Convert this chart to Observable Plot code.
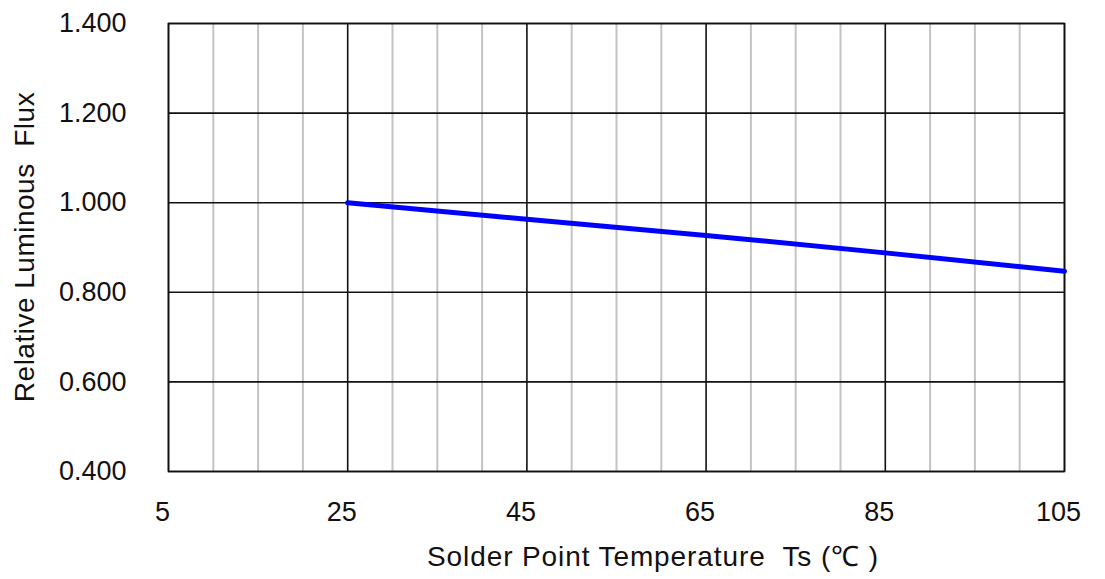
<!DOCTYPE html>
<html>
<head>
<meta charset="utf-8">
<script src="https://cdn.jsdelivr.net/npm/d3@7"></script>
<script src="https://cdn.jsdelivr.net/npm/@observablehq/plot@0.6"></script>
<style>
  html, body { margin: 0; padding: 0; background: #fff; }
  #chart svg { display: block; }
</style>
</head>
<body>
<div id="chart"></div>
<script>
// Data
const temperature = [25, 45, 65, 85, 105];
const relativeFlux = [1.000, 0.963, 0.927, 0.888, 0.847];

const xMajorTicks = [5, 25, 45, 65, 85, 105];
const xMinorTicks = [10, 15, 20, 30, 35, 40, 50, 55, 60, 70, 75, 80, 90, 95, 100];
const yTicks = [0.4, 0.6, 0.8, 1.0, 1.2, 1.4];

const data = temperature.map((t, i) => ({t, v: relativeFlux[i]}));

const W = 1105, H = 579;
const mL = 168, mR = 41, mT = 23, mB = 108;
const FS = "27px";

const plot = Plot.plot({
  width: W,
  height: H,
  marginLeft: mL,
  marginRight: mR,
  marginTop: mT,
  marginBottom: mB,
  style: {fontFamily: "'Liberation Sans', Arial, sans-serif", fontSize: FS, color: "#151010", background: "#fff"},
  x: {domain: [5, 105], ticks: xMajorTicks, tickSize: 0, tickPadding: 30, label: null, tickFormat: d3.format("d")},
  y: {domain: [0.4, 1.4], ticks: yTicks, tickSize: 0, tickPadding: 42, label: null, tickFormat: d3.format(".3f")},
  marks: [
    Plot.ruleX(xMinorTicks, {stroke: "#c4c4c4", strokeWidth: 2}),
    Plot.ruleX(xMajorTicks, {stroke: "#111", strokeWidth: 1.6}),
    Plot.ruleY(yTicks, {stroke: "#111", strokeWidth: 1.6}),
    Plot.frame({stroke: "#111", strokeWidth: 1.6}),
    Plot.line(data, {x: "t", y: "v", stroke: "#0000ff", strokeWidth: 5}),
    Plot.axisX({ticks: xMajorTicks, tickSize: 0, tickPadding: 30, dx: -6, label: null, fontSize: FS, tickFormat: d3.format("d")}),
    Plot.axisY({ticks: yTicks, tickSize: 0, tickPadding: 42, label: null, fontSize: FS, tickFormat: d3.format(".3f")})
  ]
});

const svg = d3.select(plot);
// X axis label
svg.append("text")
  .attr("x", 653)
  .attr("y", 566)
  .attr("text-anchor", "middle")
  .attr("fill", "#151010")
  .style("white-space", "pre")
  .style("font-size", "28px")
  .style("letter-spacing", "0.9px")
  .text("Solder Point Temperature  Ts (℃ )");

// Y axis label
svg.append("text")
  .attr("transform", `translate(34, ${(mT + (H - mB)) / 2}) rotate(-90)`)
  .attr("text-anchor", "middle")
  .attr("fill", "#151010")
  .style("white-space", "pre")
  .style("font-size", "28px")
  .style("letter-spacing", "0.5px")
  .text("Relative Luminous  Flux");

document.getElementById("chart").appendChild(plot);
</script>
</body>
</html>
